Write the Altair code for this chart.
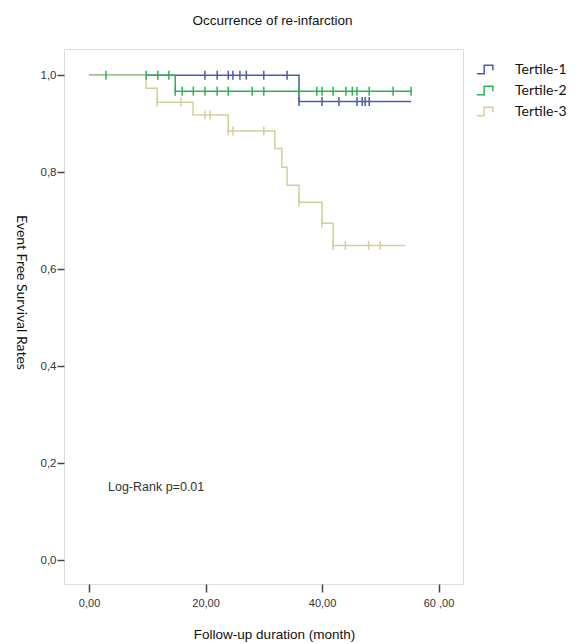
import altair as alt
import pandas as pd

# ---- data ----
series_names = ["Tertile-1", "Tertile-2", "Tertile-3"]
series_colors = ["#4a5ca8", "#2eb24f", "#d3cf98"]

t1_times = [0, 36.05, 55.3]
t1_surv = [1.0, 0.946, 0.946]
t1_cens_t = [19.9, 22.0, 23.9, 24.7, 25.9, 27.0, 30.0, 34.0, 36.05, 40.0, 42.9, 46.0, 46.9, 47.4, 48.1]
t1_cens_s = [1.0] * 8 + [0.946] * 7

t2_times = [0, 14.8, 55.3]
t2_surv = [1.0, 0.967, 0.967]
t2_cens_t = [2.9, 9.8, 11.8, 13.7, 14.8, 16.0, 17.9, 19.9, 22.0, 23.9, 28.0, 30.0, 36.05,
             39.1, 40.0, 41.9, 44.1, 45.2, 46.0, 48.1, 52.2, 55.3]
t2_cens_s = [1.0] * 4 + [0.967] * 18

t3_times = [0, 9.8, 11.7, 17.85, 23.9, 31.9, 33.1, 34.0, 36.05, 40.0, 41.9, 54.2]
t3_surv = [1.0, 0.973, 0.944, 0.918, 0.885, 0.849, 0.810, 0.773, 0.738, 0.695, 0.649, 0.649]
t3_cens_t = [11.7, 15.8, 19.9, 20.8, 23.9, 24.7, 30.0, 36.05, 40.0, 41.9, 44.0, 48.0, 50.0]
t3_cens_s = [0.944, 0.944, 0.918, 0.918, 0.885, 0.885, 0.885, 0.738, 0.695, 0.649, 0.649, 0.649, 0.649]

x_tick_values = [0, 20, 40, 60]
x_tick_labels = ["0,00", "20,00", "40,00", "60 ,00"]
y_tick_values = [0.0, 0.2, 0.4, 0.6, 0.8, 1.0]
y_tick_labels = ["0,0", "0,2", "0,4", "0,6", "0,8", "1,0"]

title_text = "Occurrence of re-infarction"
x_title = "Follow-up duration (month)"
y_title = "Event Free Survival Rates"
annotation = "Log-Rank p=0.01"

# ---- tables ----
curves = pd.concat([
    pd.DataFrame({"series": n, "t": t, "s": s, "ord": range(len(t))})
    for n, t, s in zip(series_names, [t1_times, t2_times, t3_times], [t1_surv, t2_surv, t3_surv])
])
cens = pd.concat([
    pd.DataFrame({"series": n, "t": t, "s": s})
    for n, t, s in zip(series_names, [t1_cens_t, t2_cens_t, t3_cens_t], [t1_cens_s, t2_cens_s, t3_cens_s])
])

def label_expr(values, labels):
    parts = " : ".join(f"datum.value == {v} ? '{l}'" for v, l in zip(values, labels))
    return parts + " : ''"

x_scale = alt.Scale(domain=[-4.3, 64.2], nice=False, zero=False)
y_scale = alt.Scale(domain=[-0.049, 1.054], nice=False, zero=False)
color_scale = alt.Scale(domain=series_names, range=series_colors)

x_axis = alt.Axis(values=x_tick_values, labelExpr=label_expr(x_tick_values, x_tick_labels),
                  grid=False, domain=False, tickSize=8, tickColor="#444", tickWidth=1.5,
                  labelFont="Liberation Sans", labelFontSize=11, labelColor="#333",
                  labelPadding=5, title=x_title, titleFont="Liberation Sans",
                  titleFontSize=13.5, titleFontWeight="normal", titleColor="#111",
                  titleX=210, titleY=50, titleBaseline="middle", titleAlign="center")
y_axis = alt.Axis(values=y_tick_values, labelExpr=label_expr(y_tick_values, y_tick_labels),
                  grid=False, domain=False, tickSize=7, tickColor="#444", tickWidth=1.5,
                  labelFont="Liberation Sans", labelFontSize=11.5, labelColor="#333",
                  labelPadding=1, title=y_title, titleFont="Lato", titleFontSize=14,
                  titleFontWeight="normal", titleColor="#111", titleAngle=90,
                  titleX=-44, titleY=243, titleBaseline="middle", titleAlign="center")

lines = alt.Chart(curves).mark_line(interpolate="step-after", strokeWidth=1.5).encode(
    x=alt.X("t:Q", scale=x_scale, axis=x_axis),
    y=alt.Y("s:Q", scale=y_scale, axis=y_axis),
    color=alt.Color("series:N", scale=color_scale, legend=alt.Legend(
        title=None, orient="none", legendX=412, legendY=11,
        symbolType="M-1,0.5H-0.15V-0.5H0.85V0.1", symbolSize=300,
        symbolStrokeWidth=1.5, symbolFillColor="transparent",
        labelFont="Lato", labelFontSize=14, labelColor="#111",
        labelOffset=20, rowPadding=4, padding=0)),
    order="ord:Q",
)

marks = alt.Chart(cens).mark_point(shape="M0,-1L0,1", size=81, filled=False,
                                   strokeWidth=1.5, opacity=1).encode(
    x=alt.X("t:Q", scale=x_scale),
    y=alt.Y("s:Q", scale=y_scale),
    color=alt.Color("series:N", scale=color_scale, legend=None),
)

note = alt.Chart(pd.DataFrame({"label": [annotation]})).mark_text(
    align="left", baseline="middle", font="Liberation Sans", fontSize=12.5, color="#333"
).encode(x=alt.value(44), y=alt.value(438), text="label:N")

chart = alt.layer(lines, marks, note).properties(
    width=399, height=535,
    title=alt.TitleParams(title_text, font="Liberation Sans", fontSize=13.5,
                          fontWeight="normal", color="#111", dx=9, offset=22),
    autosize=alt.AutoSizeParams(type="none"),
    padding={"left": 56, "top": 41, "right": 110, "bottom": 60},
).configure_view(
    fill="#f0f0f0", stroke="#555", strokeWidth=1.5
).configure(background="white")

chart.save("out.html", embed_options={"renderer": "svg", "actions": False})
